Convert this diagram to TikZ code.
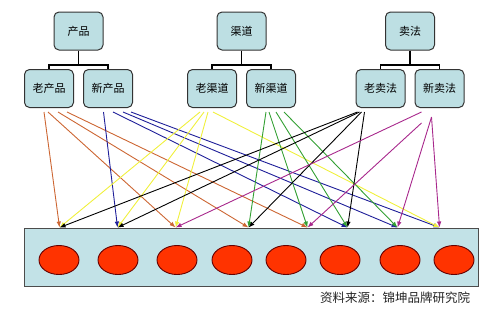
\documentclass[tikz,border=0pt]{standalone}
\usepackage{fontspec}
\newfontfamily\cjk{Noto Sans CJK SC}
\usetikzlibrary{arrows.meta,positioning,calc,shapes.geometric}
\definecolor{boxfill}{HTML}{BDDFE3}
\definecolor{barfill}{HTML}{C2E2E7}
\definecolor{dotfill}{HTML}{FF3300}
\definecolor{oldprod}{HTML}{CC6633}
\definecolor{newprod}{HTML}{1F1F99}
\definecolor{oldchan}{HTML}{F0F03C}
\definecolor{newchan}{HTML}{33A033}
\definecolor{newsell}{HTML}{A8288C}
\tikzset{
  catbox/.style = {draw=black!80, line width=1pt, rounded corners=5pt,
                   fill=boxfill, minimum width=49pt, minimum height=38pt,
                   inner sep=0pt, font=\cjk\fontsize{11}{13}\selectfont},
  tree/.style   = {line width=1.6pt},
  cell/.style   = {draw=black!70, line width=0.9pt, rectangle, fill=barfill,
                   minimum width=454pt, minimum height=58pt, inner sep=0pt},
  combo/.style  = {draw=black!60!red, line width=0.9pt, ellipse, fill=dotfill,
                   minimum width=40pt, minimum height=29pt, inner sep=0pt},
  link/.style   = {-{Latex[length=6pt,width=4.5pt]}, line width=0.9pt},
}
\begin{document}
\begin{tikzpicture}[x=1pt, y=-1pt]
\useasboundingbox (0,0) rectangle (500,311);
% category boxes
\node[catbox] (pp) at (78.5,31) {产品};
\node[catbox] (cc) at (241.5,31) {渠道};
\node[catbox] (ss) at (410,31) {卖法};
\node[catbox] (op) at (49,88.5) {老产品};
\node[catbox, right=9pt of op] (np) {新产品};
\node[catbox] (oc) at (212,88.5) {老渠道};
\node[catbox, right=9pt of oc] (nc) {新渠道};
\node[catbox] (os) at (380.5,88.5) {老卖法};
\node[catbox, right=9pt of os] (ns) {新卖法};
\foreach \p/\a/\b in {pp/op/np, cc/oc/nc, ss/os/ns} {
  \draw[tree] (\p.south) |- ($(\a.north)+(0,-4)$) -- (\a.north);
  \draw[tree] (\p.south) |- ($(\b.north)+(0,-4)$) -- (\b.north);
}
% bottom bar with the eight combinations
\node[cell] (bar) at (251,257) {};
\foreach \x [count=\i] in {59,118,177,232,286,340,400,454}
  \node[combo] (d\i) at (\x,260) {};
\foreach \x [count=\i] in {36,94,152,225,284,324,374,416}
  \coordinate (t\i) at ([xshift=\x pt]bar.north west);
% arrows
\foreach \dx/\t in {-5/t1,-1/t3,9/t4,18/t5}
  \draw[link, oldprod] ([xshift=\dx pt, yshift=-4pt]op.south) -- (\t);
\foreach \dx/\t in {-4.5/t2,5/t6,15/t7,23/t8}
  \draw[link, newprod] ([xshift=\dx pt, yshift=-4pt]np.south) -- (\t);
\foreach \dx/\t in {-12/t1,-8/t2,-4/t3,1/t8}
  \draw[link, oldchan] ([xshift=\dx pt, yshift=-4pt]oc.south) -- (\t);
\foreach \dx/\t in {-5/t4,-2/t5,5/t6,13/t7}
  \draw[link, newchan] ([xshift=\dx pt, yshift=-4pt]nc.south) -- (\t);
\foreach \dx/\t in {-23/t1,-21/t2,-19/t4,-16/t6}
  \draw[link, black] ([xshift=\dx pt, yshift=-4pt]os.south) -- (\t);
\foreach \dx/\dy/\t in {-18/-4/t3,-18/-15/t5,-8/-9/t7,-8/-9/t8}
  \draw[link, newsell] ([xshift=\dx pt, yshift=\dy pt]ns.south) -- (\t);
% source line
\node[font=\cjk\fontsize{12.5}{14}\selectfont, text=black!85] (src)
  at (395,298) {资料来源：锦坤品牌研究院};
\end{tikzpicture}
\end{document}
